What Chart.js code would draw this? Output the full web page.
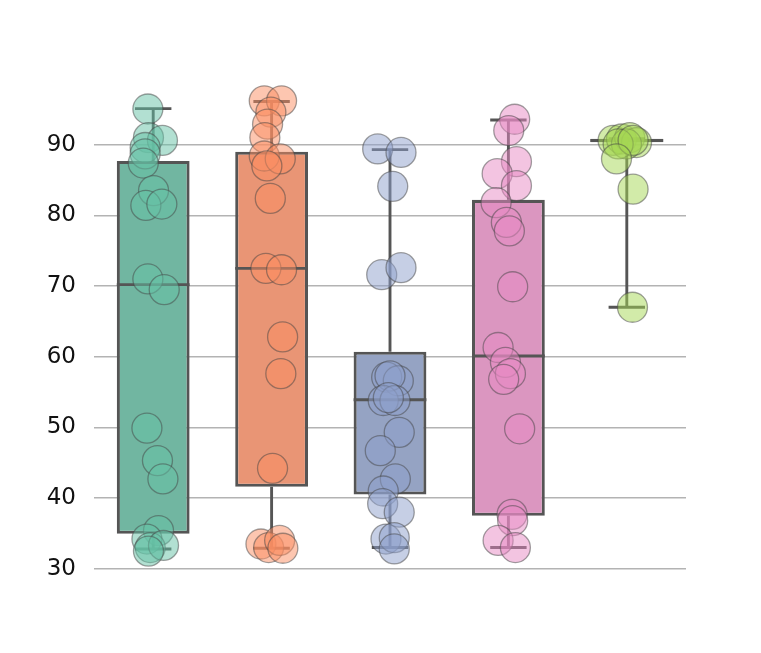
<!DOCTYPE html>
<html>
<head>
<meta charset="utf-8">
<script src="https://cdn.jsdelivr.net/npm/chart.js@4/dist/chart.umd.min.js"></script>
<style>
  html, body { margin: 0; padding: 0; background: #ffffff; }
  #wrap { width: 761px; height: 653px; }
</style>
</head>
<body>
<div id="wrap"><canvas id="c" width="761" height="653"></canvas></div>
<script>
// ---- data ----
const categories = ['A', 'B', 'C', 'D', 'E'];
const yTicks = [30, 40, 50, 60, 70, 80, 90];

// box statistics per category
const q1          = [34.95, 41.6, 40.5, 37.5, 90.35];
const medians     = [70.2, 72.5, 53.9, 60.1, 90.6];
const q3          = [87.7, 89.0, 60.7, 82.2, 90.85];
const whiskerLow  = [32.8, 32.9, 33.0, 33.0, 67.0];
const whiskerHigh = [95.1, 96.1, 89.3, 93.5, 90.85];

// individual observations (value) and their horizontal jitter (category units)
const valsA = [95.05, 91.0, 90.6, 89.6, 88.7, 87.4, 83.5, 81.4, 81.6, 71.0, 69.5, 49.9, 45.3, 42.7, 35.4, 34.2, 33.0, 33.3, 32.5];
const jitA  = [-0.045, -0.040, 0.078, -0.068, -0.068, -0.084, 0.003, -0.062, 0.073, -0.045, 0.093, -0.053, 0.036, 0.082, 0.045, -0.053, -0.025, 0.087, -0.040];

const valsB = [96.2, 96.2, 94.6, 92.9, 91.0, 88.4, 88.0, 87.0, 82.4, 72.5, 72.3, 62.8, 57.6, 44.2, 33.5, 33.0, 34.0, 32.9];
const jitB  = [-0.062, 0.084, -0.006, -0.034, -0.057, -0.062, 0.073, -0.040, -0.011, -0.048, 0.084, 0.093, 0.078, 0.008, -0.090, -0.025, 0.068, 0.095];

const valsC = [89.4, 88.9, 84.1, 71.6, 72.6, 57.1, 56.6, 57.3, 53.8, 53.8, 54.2, 49.3, 46.7, 42.7, 41.0, 39.2, 38.0, 34.2, 34.4, 32.8];
const jitC  = [-0.104, 0.093, 0.023, -0.070, 0.093, -0.028, 0.070, 0.000, -0.057, 0.042, -0.014, 0.078, -0.082, 0.045, -0.057, -0.062, 0.078, -0.034, 0.036, 0.036];

const valsD = [93.6, 92.0, 87.6, 85.9, 84.2, 81.8, 79.0, 77.8, 69.9, 61.3, 59.2, 57.6, 56.8, 49.8, 37.7, 36.8, 34.0, 33.0];
const jitD  = [0.053, 0.003, 0.068, -0.095, 0.068, -0.104, -0.017, 0.008, 0.036, -0.087, -0.025, 0.017, -0.040, 0.095, 0.031, 0.036, -0.087, 0.059];

const valsE = [90.6, 90.8, 91.0, 90.3, 90.1, 90.1, 90.6, 88.0, 83.7, 67.0];
const jitE  = [-0.116, -0.045, 0.025, 0.082, -0.003, -0.073, 0.053, -0.087, 0.053, 0.048];

// ---- styling ----
const boxColors   = ['#71b6a1', '#e99575', '#95a3c3', '#db96c0', '#a2c764'];
const pointColors = ['rgba(102,194,165,0.5)', 'rgba(252,141,98,0.5)', 'rgba(141,160,203,0.5)', 'rgba(231,138,195,0.5)', 'rgba(166,216,84,0.5)'];
const lineColor = '#555555';

const groups = [[valsA, jitA], [valsB, jitB], [valsC, jitC], [valsD, jitD], [valsE, jitE]];

const pointSets = groups.map((g, i) => ({
  type: 'scatter',
  xAxisID: 'xp',
  yAxisID: 'y',
  data: g[0].map((v, k) => ({ x: i + g[1][k], y: v })),
  pointRadius: 15,
  pointHoverRadius: 15,
  backgroundColor: pointColors[i],
  borderColor: 'rgba(70,70,70,0.5)',
  borderWidth: 1.3,
  clip: false,
  order: 1
}));

const boxParts = {
  id: 'boxParts',
  afterDatasetDraw(chart, args) {
    if (args.index !== 0) return;
    const ctx = chart.ctx;
    const y = chart.scales.y;
    const meta = chart.getDatasetMeta(0);
    ctx.save();
    ctx.strokeStyle = lineColor;
    ctx.lineWidth = 2.9;
    ctx.lineCap = 'butt';
    const seg = (x1, y1, x2, y2) => { ctx.beginPath(); ctx.moveTo(x1, y1); ctx.lineTo(x2, y2); ctx.stroke(); };
    categories.forEach((c, i) => {
      const bar = meta.data[i];
      const cx = bar.x;
      const half = bar.width / 2;
      const cap = bar.width / 4;
      const pQ1 = y.getPixelForValue(q1[i]);
      const pQ3 = y.getPixelForValue(q3[i]);
      const pLo = y.getPixelForValue(whiskerLow[i]);
      const pHi = y.getPixelForValue(whiskerHigh[i]);
      const pMed = y.getPixelForValue(medians[i]);
      seg(cx, pQ3, cx, pHi);
      seg(cx, pQ1, cx, pLo);
      seg(cx - cap, pHi, cx + cap, pHi);
      seg(cx - cap, pLo, cx + cap, pLo);
      seg(cx - half, pMed, cx + half, pMed);
    });
    ctx.restore();
  }
};

new Chart(document.getElementById('c'), {
  type: 'bar',
  data: {
    labels: categories,
    datasets: [
      {
        type: 'bar',
        data: categories.map((c, i) => [q1[i], q3[i]]),
        backgroundColor: boxColors,
        borderColor: lineColor,
        borderWidth: 3.1,
        borderSkipped: false,
        grouped: false,
        barPercentage: 0.615,
        categoryPercentage: 1,
        xAxisID: 'x',
        yAxisID: 'y',
        order: 2
      },
      ...pointSets
    ]
  },
  options: {
    responsive: false,
    animation: false,
    events: [],
    layout: { padding: { top: 74.0, bottom: 77.2, left: 0, right: 75 } },
    plugins: { legend: { display: false }, tooltip: { enabled: false } },
    scales: {
      x: { type: 'category', display: false, offset: true },
      xp: { type: 'linear', display: false, offset: false, min: -0.5, max: 4.5 },
      y: {
        type: 'linear',
        min: 29,
        max: 100,
        z: 1,
        border: { display: false },
        grid: { color: '#b3b3b3', lineWidth: 1.6, drawTicks: false },
        ticks: {
          padding: 18,
          color: '#111111',
          font: { family: 'DejaVu Sans', size: 23 }
        },
        afterBuildTicks(scale) { scale.ticks = yTicks.map(v => ({ value: v })); },
        afterFit(scale) { scale.width = 94; }
      }
    }
  },
  plugins: [boxParts]
});
</script>
</body>
</html>
